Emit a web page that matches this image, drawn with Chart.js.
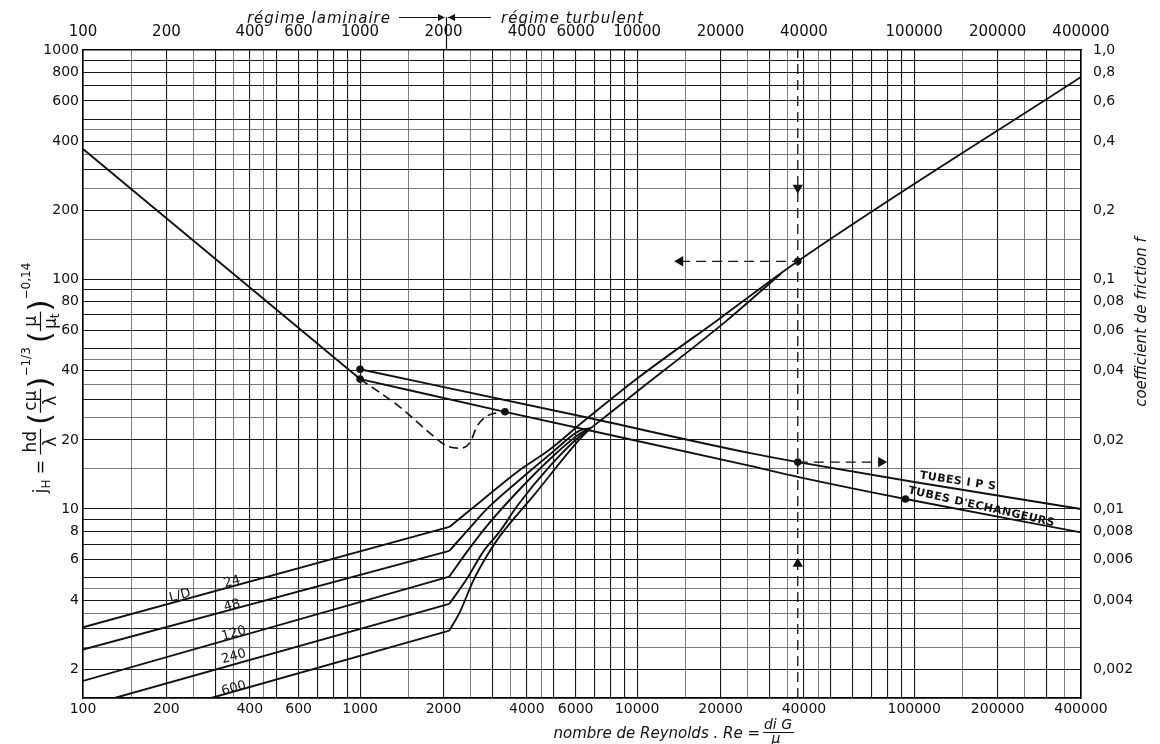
<!DOCTYPE html>
<html>
<head>
<meta charset="utf-8">
<title>jH / f – nombre de Reynolds</title>
<script src="https://cdn.jsdelivr.net/npm/chart.js@4.4.1/dist/chart.umd.min.js"></script>
<style>
  html, body { margin: 0; padding: 0; background: #fff; }
  canvas { display: block; }
</style>
</head>
<body>
<canvas id="chart" width="1160" height="744"></canvas>
<script>
// ─────────────────────────────────────────────────────────────────────────────
// Axes: grid values and labelled ticks
// ─────────────────────────────────────────────────────────────────────────────

const xGrid = [
  100, 150, 200, 250, 300, 350, 400, 450, 500, 600, 700, 800, 900,
  1000, 1500, 2000, 2500, 3000, 3500, 4000, 4500, 5000, 6000, 7000, 8000, 9000,
  10000, 15000, 20000, 25000, 30000, 35000, 40000, 45000, 50000, 60000, 70000, 80000, 90000,
  100000, 150000, 200000, 250000, 300000, 350000, 400000,
];
const xLabels = [100, 200, 400, 600, 1000, 2000, 4000, 6000, 10000, 20000, 40000, 100000, 200000, 400000];

const yGrid = [
  1.5, 2, 2.5, 3, 3.5, 4, 4.5, 5, 6, 7, 8, 9,
  10, 15, 20, 25, 30, 35, 40, 45, 50, 60, 70, 80, 90,
  100, 150, 200, 250, 300, 350, 400, 450, 500, 600, 700, 800, 900, 1000,
];
const yLabels = [2, 4, 6, 8, 10, 20, 40, 60, 80, 100, 200, 400, 600, 800, 1000];
const fTicks  = [0.002, 0.004, 0.006, 0.008, 0.01, 0.02, 0.04, 0.06, 0.08, 0.1, 0.2, 0.4, 0.6, 0.8, 1.0];

// ─────────────────────────────────────────────────────────────────────────────
// jH curves (left axis)
// ─────────────────────────────────────────────────────────────────────────────

// laminar straight parts, one entry per L/D
const ldNames    = ['24', '48', '120', '240', '600'];
const lamStartRe = [100, 100, 100, 130, 290];
const lamStartJ  = [3.05, 2.44, 1.78, 1.5, 1.5];
const lamKinkRe  = 2100;
const lamKinkJ   = [8.35, 6.57, 5.07, 3.86, 2.95];

// transition parts (from the kink to the turbulent line)
const trRe24  = [2100, 2780, 3690, 4850, 6220];
const trJ24   = [8.35, 11.0, 14.5, 18.2, 23.4];
const trRe48  = [2100, 2430, 2870, 3690, 4850, 6220, 6800];
const trJ48   = [6.57, 8.0, 10.0, 13.1, 17.3, 22.0, 22.5];
const trRe120 = [2100, 2430, 2870, 3690, 4850, 6220, 6800];
const trJ120  = [5.07, 6.5, 8.44, 11.85, 16.5, 21.3, 22.5];
const trRe240 = [2100, 2430, 2780, 3200, 3690, 4850, 6220, 6800];
const trJ240  = [3.86, 4.96, 6.5, 8.0, 10.3, 15.4, 20.8, 22.5];
const trRe600 = [2100, 2296, 2560, 2870, 3200, 4220, 6220, 6800];
const trJ600  = [2.95, 3.57, 4.86, 6.25, 7.63, 11.4, 20.2, 22.5];

// turbulent line and the second branch that joins it
const turbRe  = [6220, 10000, 20000, 38000, 400000];
const turbJ   = [23.4, 37, 68, 120, 763];
const branchRe = [6800, 10000, 21000, 33000];
const branchJ  = [22.5, 32.5, 66, 106];

// ─────────────────────────────────────────────────────────────────────────────
// Friction factor curves (right axis)
// ─────────────────────────────────────────────────────────────────────────────

const lamFRe = [100, 1000];
const lamF   = [0.370, 0.0368];
const transFRe = [1000, 1393, 1837, 2061, 2296, 2495, 2643, 2870, 3334];
const transF   = [0.0368, 0.0278, 0.0208, 0.0188, 0.0184, 0.0195, 0.0229, 0.0254, 0.0265];
const ipsRe = [1000, 6220, 25600, 38000, 100000, 400000];
const ipsF  = [0.0406, 0.0254, 0.0175, 0.0160, 0.0131, 0.0100];
const echRe = [1000, 3334, 25600, 38000, 93000, 400000];
const echF  = [0.0368, 0.0265, 0.0154, 0.0138, 0.01105, 0.0079];

// marked points
const dotJRe = [38000];
const dotJ   = [120];
const dotFRe = [1000, 1000, 3334, 38000, 93000];
const dotF   = [0.0406, 0.0368, 0.0265, 0.0160, 0.01105];

// worked example (dashed guides + arrows)
const exampleRe = 38000;
const guideVRe = [exampleRe, exampleRe];
const guideVJ  = [1.5, 1000];
const guideJRe = [14300, exampleRe];
const guideJ   = [120, 120];
const guideFRe = [exampleRe, 76000];
const guideF   = [0.016, 0.016];
const arrowJRe = [exampleRe, exampleRe, 14300];
const arrowJ   = [251, 5.77, 120];
const arrowFRe = [76000];
const arrowF   = [0.016];

// text notes on the plot
const curveNotes = [
  { text: 'L/D', re: 224, jh: 4.19 },
  { text: '24',  re: 345, jh: 4.81 },
  { text: '48',  re: 345, jh: 3.79 },
  { text: '120', re: 350, jh: 2.86 },
  { text: '240', re: 350, jh: 2.27 },
  { text: '600', re: 350, jh: 1.65 },
];
const tubeNotes = [
  { text: 'TUBES I P S',        re: 144000, f: 0.0132, angle: 8.6 },
  { text: "TUBES D'ECHANGEURS", re: 175000, f: 0.0102, angle: 12.7 },
];

// ─────────────────────────────────────────────────────────────────────────────
// Helpers
// ─────────────────────────────────────────────────────────────────────────────

const INK  = '#111';
const FONT = '"DejaVu Sans", "Noto Sans", sans-serif';

const xy = (xs, ys) => xs.map((x, i) => ({ x, y: ys[i] }));

// 1.5, 2.5, 3.5, 4.5 × 10^n are the light grid lines
function isThin(v) {
  const m = v / Math.pow(10, Math.floor(Math.log10(v) + 1e-9));
  return Math.round(m * 2) % 2 === 1;
}

const gridOpts = {
  drawTicks: false,
  color: (c) => (c.tick && isThin(c.tick.value) ? '#5a5a5a' : '#1a1a1a'),
  lineWidth: (c) => (c.tick && isThin(c.tick.value) ? 0.8 : 1.1),
};
const borderOpts = { display: true, color: '#000', width: 1.6 };

function line(data, yAxisID, extra = {}) {
  return Object.assign({
    data, yAxisID,
    borderColor: INK, borderWidth: 1.9,
    pointRadius: 0, fill: false,
    cubicInterpolationMode: 'monotone',
  }, extra);
}
function marks(data, yAxisID, extra = {}) {
  return Object.assign({
    data, yAxisID, showLine: false,
    pointRadius: 3.8, pointBackgroundColor: INK, pointBorderColor: INK, pointBorderWidth: 0,
  }, extra);
}

// ─────────────────────────────────────────────────────────────────────────────
// Titles and notes
// ─────────────────────────────────────────────────────────────────────────────

function drawJhTitle(ctx, cx, cy) {
  const big = `17px ${FONT}`, small = `12px ${FONT}`, paren = `31px ${FONT}`;
  const ops = [
    { t: 'j', font: big, y: 6 },
    { t: 'H', font: small, y: 10 },
    { t: ' = ', font: big, y: 6 },
    { frac: ['hd', 'λ'] },
    { gap: 4 },
    { t: '(', font: paren, y: 10 },
    { frac: ['cμ', 'λ'] },
    { t: ')', font: paren, y: 10 },
    { t: '−1/3', font: small, y: -10 },
    { gap: 4 },
    { t: '(', font: paren, y: 10 },
    { frac: ['μ', 'μ', 't'] },
    { t: ')', font: paren, y: 10 },
    { t: '−0,14', font: small, y: -10 },
  ];
  const run = (draw) => {
    let x = 0;
    for (const op of ops) {
      if (op.gap) { x += op.gap; continue; }
      if (op.frac) {
        ctx.font = big;
        const [num, den, sub] = op.frac;
        const wn = ctx.measureText(num).width;
        const wd = ctx.measureText(den).width;
        ctx.font = small;
        const ws = sub ? ctx.measureText(sub).width : 0;
        const w = Math.max(wn, wd + ws) + 4;
        if (draw) {
          ctx.font = big;
          ctx.fillText(num, x + (w - wn) / 2, -4);
          const dx = x + (w - wd - ws) / 2;
          ctx.fillText(den, dx, 16);
          if (sub) { ctx.font = small; ctx.fillText(sub, dx + wd, 19); }
          ctx.beginPath(); ctx.moveTo(x, 0.5); ctx.lineTo(x + w, 0.5); ctx.lineWidth = 1.2; ctx.stroke();
        }
        x += w;
        continue;
      }
      ctx.font = op.font;
      if (draw) ctx.fillText(op.t, x, op.y);
      x += ctx.measureText(op.t).width;
    }
    return x;
  };
  ctx.save();
  ctx.translate(cx, cy);
  ctx.rotate(-Math.PI / 2);
  ctx.fillStyle = INK; ctx.strokeStyle = INK;
  ctx.textAlign = 'left'; ctx.textBaseline = 'alphabetic';
  const w = run(false);
  ctx.translate(-w / 2, 0);
  run(true);
  ctx.restore();
}

function drawTriangle(ctx, tipX, y, dir, size) {
  ctx.beginPath();
  ctx.moveTo(tipX, y);
  ctx.lineTo(tipX - dir * size, y - size * 0.5);
  ctx.lineTo(tipX - dir * size, y + size * 0.5);
  ctx.closePath();
  ctx.fill();
}

const annotate = {
  id: 'annotate',
  afterDatasetsDraw(chart) {
    const { ctx } = chart;
    const x = chart.scales.x, y = chart.scales.y, f = chart.scales.y2;
    const note = (text, px, py, deg, font) => {
      ctx.save();
      ctx.translate(px, py);
      ctx.rotate(deg * Math.PI / 180);
      ctx.font = font;
      ctx.fillStyle = INK;
      ctx.textAlign = 'center';
      ctx.textBaseline = 'middle';
      ctx.fillText(text, 0, 0);
      ctx.restore();
    };
    curveNotes.forEach(n =>
      note(n.text, x.getPixelForValue(n.re), y.getPixelForValue(n.jh), -15.5, `13px ${FONT}`));
    ctx.save();
    ctx.letterSpacing = '0.5px';
    tubeNotes.forEach(n =>
      note(n.text, x.getPixelForValue(n.re), f.getPixelForValue(n.f), n.angle, `bold 11px ${FONT}`));
    ctx.restore();
  },
  afterDraw(chart) {
    const { ctx } = chart;
    const x = chart.scales.x;
    const area = chart.chartArea;
    ctx.save();
    ctx.fillStyle = INK;
    ctx.strokeStyle = INK;

    // left axis formula
    drawJhTitle(ctx, 40, 378);

    // right axis title
    ctx.save();
    ctx.translate(1142, 322);
    ctx.rotate(-Math.PI / 2);
    ctx.font = `italic 15px ${FONT}`;
    ctx.textAlign = 'center';
    ctx.textBaseline = 'middle';
    ctx.fillText('coefficient de friction f', 0, 0);
    ctx.restore();

    // bottom title: nombre de Reynolds . Re = di G / μ
    ctx.font = `italic 15px ${FONT}`;
    ctx.textAlign = 'right';
    ctx.textBaseline = 'alphabetic';
    ctx.fillText('nombre de Reynolds . Re =', 760, 738);
    ctx.font = `italic 14px ${FONT}`;
    ctx.textAlign = 'center';
    ctx.fillText('di G', 778, 729);
    ctx.fillText('μ', 776, 743);
    ctx.lineWidth = 1;
    ctx.beginPath(); ctx.moveTo(763, 732.5); ctx.lineTo(794, 732.5); ctx.stroke();

    // top: régime laminaire → ← régime turbulent, split at Re = 2000
    const px = Math.round(x.getPixelForValue(2000)) + 3;
    ctx.font = `italic 15px ${FONT}`;
    ctx.letterSpacing = '1px';
    ctx.textBaseline = 'alphabetic';
    ctx.textAlign = 'right';
    ctx.fillText('régime laminaire', px - 55, 23);
    ctx.textAlign = 'left';
    ctx.fillText('régime turbulent', px + 55, 23);
    ctx.letterSpacing = '0px';
    ctx.lineWidth = 1.2;
    ctx.beginPath();
    ctx.moveTo(px - 47, 17.5); ctx.lineTo(px - 2, 17.5);
    ctx.moveTo(px + 2, 17.5);  ctx.lineTo(px + 45, 17.5);
    ctx.moveTo(px + 0.5, 17);  ctx.lineTo(px + 0.5, area.top);
    ctx.stroke();
    drawTriangle(ctx, px - 1, 17.5, 1, 7);
    drawTriangle(ctx, px + 2, 17.5, -1, 7);
    ctx.restore();
  },
};

// ─────────────────────────────────────────────────────────────────────────────
// Chart
// ─────────────────────────────────────────────────────────────────────────────

const trRes = [trRe24, trRe48, trRe120, trRe240, trRe600];
const trJs  = [trJ24, trJ48, trJ120, trJ240, trJ600];

const datasets = [
  ...ldNames.map((name, i) =>
    line(xy([lamStartRe[i], lamKinkRe], [lamStartJ[i], lamKinkJ[i]]), 'y', { label: 'L/D ' + name, cubicInterpolationMode: 'default', tension: 0 })),
  ...ldNames.map((name, i) =>
    line(xy(trRes[i], trJs[i]), 'y', { label: 'transition ' + name })),
  line(xy(turbRe, turbJ), 'y', { label: 'turbulent' }),
  line(xy(branchRe, branchJ), 'y', { label: 'turbulent branch' }),

  line(xy(lamFRe, lamF), 'y2', { label: 'f laminaire', cubicInterpolationMode: 'default', tension: 0 }),
  line(xy(transFRe, transF), 'y2', { label: 'f transition', borderDash: [9, 5], borderWidth: 1.6 }),
  line(xy(ipsRe, ipsF), 'y2', { label: 'TUBES I P S' }),
  line(xy(echRe, echF), 'y2', { label: "TUBES D'ECHANGEURS" }),

  line(xy(guideVRe, guideVJ), 'y', { label: 'guide Re', borderDash: [10, 6], borderWidth: 1.3, tension: 0, cubicInterpolationMode: 'default' }),
  line(xy(guideJRe, guideJ), 'y', { label: 'guide jH', borderDash: [10, 6], borderWidth: 1.3, tension: 0, cubicInterpolationMode: 'default' }),
  line(xy(guideFRe, guideF), 'y2', { label: 'guide f', borderDash: [10, 6], borderWidth: 1.3, tension: 0, cubicInterpolationMode: 'default' }),

  marks(xy(dotJRe, dotJ), 'y', { label: 'points jH' }),
  marks(xy(dotFRe, dotF), 'y2', { label: 'points f' }),
  marks(xy(arrowJRe, arrowJ), 'y', { label: 'flèches jH', pointStyle: 'triangle', pointRadius: 6, pointRotation: [180, 0, 270] }),
  marks(xy(arrowFRe, arrowF), 'y2', { label: 'flèche f', pointStyle: 'triangle', pointRadius: 6, pointRotation: [90] }),
];

const xTicks = (padding) => ({
  autoSkip: false, maxRotation: 0, minRotation: 0, padding,
  color: INK, font: { family: FONT, size: 14 },
  callback: (v) => (xLabels.includes(v) ? String(v) : ''),
});
const yTicks = {
  autoSkip: false, padding: 4,
  color: INK, font: { family: FONT, size: 14 },
  callback: (v) => (yLabels.includes(v) ? String(v) : ''),
};

new Chart(document.getElementById('chart'), { // eslint-disable-line no-undef
  type: 'line',
  data: { datasets },
  options: {
    responsive: false,
    devicePixelRatio: 1,
    animation: false,
    events: [],
    layout: { padding: 0 },
    plugins: { legend: { display: false }, tooltip: { enabled: false } },
    scales: {
      x: {
        type: 'logarithmic', position: 'bottom', min: 100, max: 400000,
        afterBuildTicks: (s) => { s.ticks = xGrid.map(value => ({ value })); },
        afterFit: (s) => { s.height = 46; },
        grid: gridOpts, border: borderOpts, ticks: xTicks(3),
      },
      x2: {
        type: 'logarithmic', position: 'top', min: 100, max: 400000,
        afterBuildTicks: (s) => { s.ticks = xLabels.map(value => ({ value })); },
        afterFit: (s) => { s.height = 50; },
        grid: { display: false }, border: borderOpts,
        ticks: Object.assign(xTicks(1), { font: { family: FONT, size: 15 } }),
      },
      y: {
        type: 'logarithmic', position: 'left', min: 1.5, max: 1000,
        afterBuildTicks: (s) => { s.ticks = yGrid.map(value => ({ value })); },
        afterFit: (s) => { s.width = 83; },
        grid: gridOpts, border: borderOpts, ticks: yTicks,
      },
      y2: {
        type: 'logarithmic', position: 'right', min: 0.0015, max: 1.0,
        afterBuildTicks: (s) => { s.ticks = fTicks.map(value => ({ value })); },
        afterFit: (s) => { s.width = 79; },
        grid: { display: false }, border: borderOpts,
        ticks: {
          autoSkip: false, padding: 4,
          color: INK, font: { family: FONT, size: 14 },
          callback: (v) => (v === 1 ? '1,0' : String(v).replace('.', ',')),
        },
      },
    },
  },
  plugins: [annotate],
});
</script>
</body>
</html>
